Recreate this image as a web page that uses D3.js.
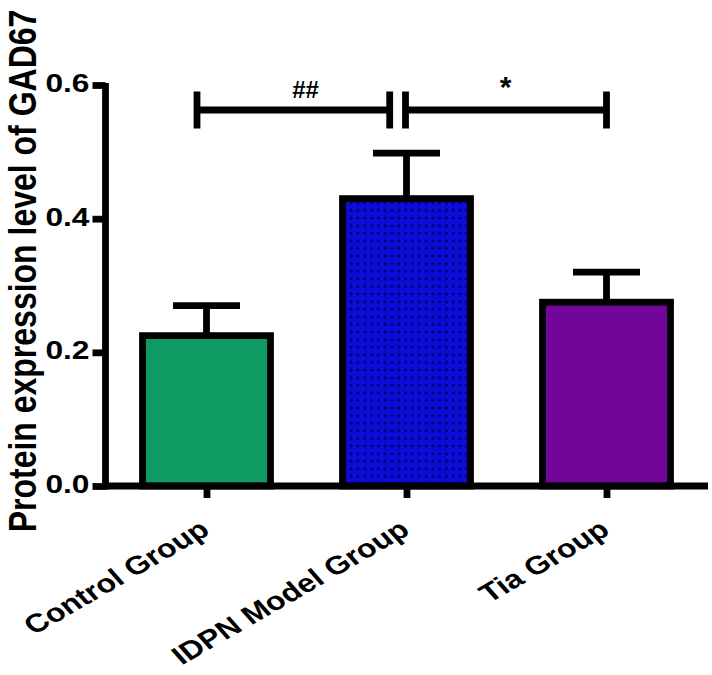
<!DOCTYPE html>
<html>
<head>
<meta charset="utf-8">
<script src="https://cdn.jsdelivr.net/npm/d3@7/dist/d3.min.js"></script>
<style>
  html, body { margin: 0; padding: 0; background: #fff; }
  svg { display: block; }
  text { font-family: "Liberation Sans", Arial, Helvetica, sans-serif; font-weight: bold; fill: #000; }
</style>
</head>
<body>
<svg id="chart" width="712" height="675"></svg>
<script>
// ---- data ----
const categories = ["Control Group", "IDPN Model Group", "Tia Group"];
const means = [0.225, 0.430, 0.275];
const errors = [0.045, 0.068, 0.045];
const yTicks = [0.0, 0.2, 0.4, 0.6];
const yTickLabels = ["0.0", "0.2", "0.4", "0.6"];
const comparisons = [
  { from: "Control Group", to: "IDPN Model Group", label: "##" },
  { from: "IDPN Model Group", to: "Tia Group", label: "*" }
];
const yTitle = "Protein expression level of GAD67";

// ---- layout ----
const svg = d3.select("#chart");
const SX = 1.24; // horizontal stretch of the original figure
const x = d3.scalePoint().domain(categories).range([106.5, 706.5]).padding(0.5);
const y = d3.scaleLinear().domain([0, 0.6]).range([486, 85]);
const barW = 128;
const capW = 67;
const lw = 6.8;

// defs: dot pattern for IDPN bar
const defs = svg.append("defs");
const pat = defs.append("pattern").attr("id", "dots").attr("patternUnits", "userSpaceOnUse")
  .attr("width", 6.8).attr("height", 7.6).attr("x", 341).attr("y", 199);
pat.append("rect").attr("width", 6.8).attr("height", 7.6).attr("fill", "#0c0cd8");
pat.append("circle").attr("cx", 3.4).attr("cy", 3.8).attr("r", 1.5).attr("fill", "#000060");

const fills = ["#0f9a63", "url(#dots)", "#73069a"];

// error bars (behind bars)
const eg = svg.append("g").attr("stroke", "#000").attr("stroke-width", lw).attr("fill", "none");
categories.forEach((c, i) => {
  eg.append("line").attr("x1", x(c)).attr("x2", x(c)).attr("y1", y(means[i])).attr("y2", y(means[i] + errors[i]));
  eg.append("line").attr("x1", x(c) - capW / 2).attr("x2", x(c) + capW / 2)
    .attr("y1", y(means[i] + errors[i])).attr("y2", y(means[i] + errors[i]));
});

// bars
svg.append("g").selectAll("rect").data(categories).join("rect")
  .attr("x", d => x(d) - barW / 2)
  .attr("y", (d, i) => y(means[i]))
  .attr("width", barW)
  .attr("height", (d, i) => y(0) - y(means[i]))
  .attr("fill", (d, i) => fills[i])
  .attr("stroke", "#000").attr("stroke-width", lw);

// y axis
const yAxis = svg.append("g").attr("transform", "translate(105.5,0)")
  .call(d3.axisLeft(y).tickValues(yTicks).tickSize(13).tickFormat((d, i) => yTickLabels[i]));
yAxis.select(".domain").attr("d", `M0,${y(0.6) - 2}V${y(0) + 3.4}`).attr("stroke-width", lw).attr("stroke", "#000");
yAxis.selectAll(".tick line").attr("stroke-width", lw).attr("stroke", "#000");
yAxis.selectAll(".tick text").each(function () {
  const t = d3.select(this);
  t.attr("x", null).attr("dy", null)
   .attr("transform", `translate(-16,6.5) scale(${SX},1)`)
   .attr("text-anchor", "end").style("font-size", "25.6px")
   .style("font-family", '"Liberation Sans", Arial, sans-serif').style("font-weight", "bold");
});

// x axis
const xAxis = svg.append("g").attr("transform", `translate(0,${y(0)})`)
  .call(d3.axisBottom(x).tickSize(12).tickFormat(""));
xAxis.select(".domain").attr("d", "M102,0H708").attr("stroke-width", lw).attr("stroke", "#000");
xAxis.selectAll(".tick line").attr("stroke-width", lw).attr("stroke", "#000");
const theta = Math.atan(Math.tan(30 * Math.PI / 180) * SX) * 180 / Math.PI;
svg.append("g").selectAll("text").data(categories).join("text")
  .attr("transform", d => `translate(${x(d) + 5},533) scale(${SX},1) rotate(${-theta})`)
  .attr("text-anchor", "end")
  .style("font-size", "25.8px")
  .text(d => d);

// y title
svg.append("text")
  .attr("transform", `translate(35.5,271) scale(${SX},1) rotate(-90)`)
  .attr("text-anchor", "middle")
  .style("font-size", "32px")
  .text(yTitle);

// significance brackets
const bracketY = y(0.5626);
const offs = [[-9.5, -16.8], [-1, 0]];
const bg = svg.append("g").attr("stroke", "#000").attr("stroke-width", lw).attr("fill", "none");
comparisons.forEach((cmp, i) => {
  const x1 = x(cmp.from) + offs[i][0];
  const x2 = x(cmp.to) + offs[i][1];
  bg.append("line").attr("x1", x1).attr("x2", x2).attr("y1", bracketY).attr("y2", bracketY);
  bg.append("line").attr("x1", x1).attr("x2", x1).attr("y1", bracketY - 18.5).attr("y2", bracketY + 18.5);
  bg.append("line").attr("x1", x2).attr("x2", x2).attr("y1", bracketY - 18.5).attr("y2", bracketY + 18.5);
  const isStar = cmp.label === "*";
  svg.append("text")
    .attr("x", (x(cmp.from) + x(cmp.to)) / 2 - 1)
    .attr("y", isStar ? 97 : 97.5)
    .attr("text-anchor", "middle")
    .style("font-size", isStar ? "30px" : "24px")
    .text(cmp.label);
});
</script>
</body>
</html>
